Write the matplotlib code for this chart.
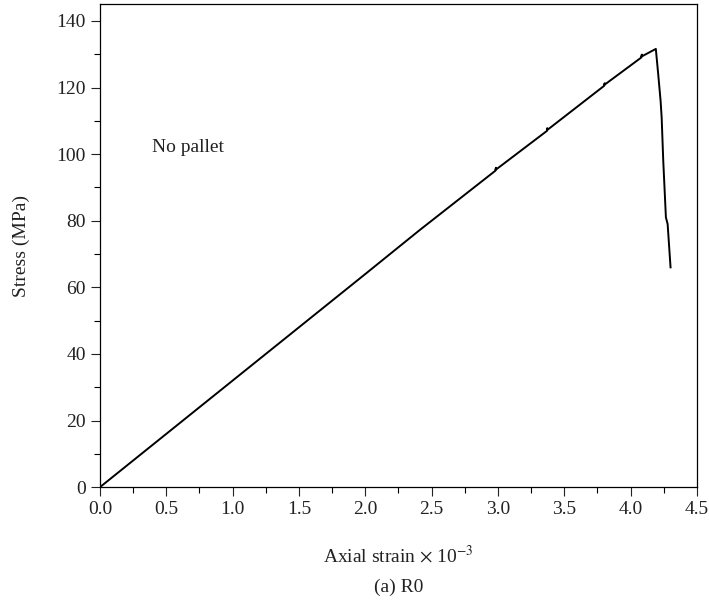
import matplotlib
matplotlib.use("Agg")
import matplotlib.pyplot as plt
from matplotlib.ticker import MultipleLocator

# stress-strain record for specimen R0 (strain in 1e-3, stress in MPa)
strain = [0.0, 0.50, 1.00, 1.50, 2.00, 2.41, 2.98, 2.985, 2.983, 3.37,
          3.372, 3.370, 3.80, 3.805, 3.802, 4.08, 4.085, 4.082, 4.19,
          4.208, 4.226, 4.234, 4.246, 4.266, 4.279, 4.301]
stress = [0.0, 16.0, 32.0, 48.0, 64.0, 77.2, 95.0, 95.9, 95.3, 107.0,
          107.8, 107.2, 120.5, 121.3, 120.8, 129.0, 129.9, 129.3, 131.6,
          124.0, 116.0, 111.0, 98.0, 81.0, 79.0, 66.0]

plt.rcParams["font.family"] = ["Liberation Serif", "DejaVu Serif"]
plt.rcParams["mathtext.fontset"] = "stix"

fig = plt.figure(figsize=(7.09, 6.12), dpi=100)
ax = fig.add_axes([0.141, 0.204, 0.842, 0.789])

ax.plot(strain, stress, color="black", lw=1.4)

ax.set_xlim(0, 4.5)
ax.set_ylim(0, 145)
ax.xaxis.set_major_locator(MultipleLocator(0.5))
ax.xaxis.set_minor_locator(MultipleLocator(0.25))
ax.yaxis.set_major_locator(MultipleLocator(20))
ax.yaxis.set_minor_locator(MultipleLocator(10))
ax.xaxis.set_major_formatter(plt.FormatStrFormatter("%.1f"))

ax.tick_params(which="major", direction="out", length=6.5, width=0.8,
               labelsize=14, colors="#222222")
ax.tick_params(which="minor", direction="out", length=4, width=0.8)
for s in ax.spines.values():
    s.set_linewidth(0.9)

ax.set_ylabel("Stress (MPa)", fontsize=14, color="#222222", labelpad=19)
ax.set_xlabel(r"Axial strain $\times$ 10$^{-3}$", fontsize=14,
              color="#222222", labelpad=19)

ax.text(0.39, 102, "No pallet", fontsize=14, color="#222222",
        ha="left", va="center")

fig.text(0.562, 1 - 587 / 612, "(a) R0", fontsize=14, color="#222222",
         ha="center", va="center")

fig.savefig("out.png", dpi=100)
